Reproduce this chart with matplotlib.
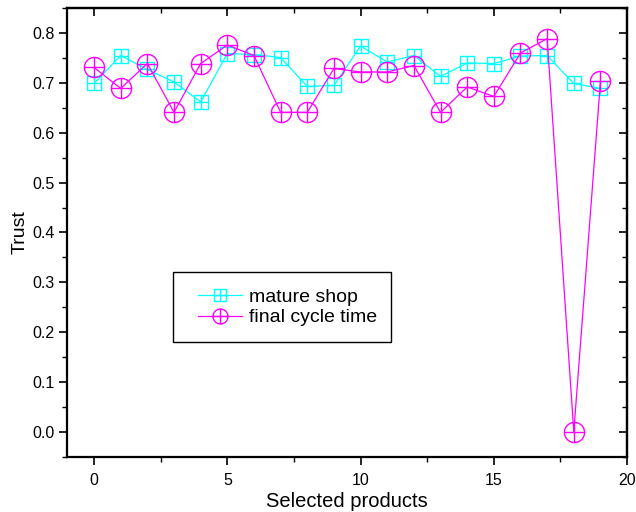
import numpy as np
import matplotlib
matplotlib.use('Agg')
import matplotlib.pyplot as plt
from matplotlib.path import Path
from matplotlib.patches import Rectangle
from matplotlib.ticker import MultipleLocator, FormatStrFormatter

# Data
products = list(range(20))
mature_shop = [0.699, 0.755, 0.727, 0.702, 0.662, 0.759, 0.757, 0.751, 0.693, 0.695,
               0.774, 0.742, 0.755, 0.713, 0.740, 0.739, 0.754, 0.755, 0.699, 0.689]
final_cycle = [0.731, 0.689, 0.739, 0.641, 0.739, 0.776, 0.755, 0.641, 0.641, 0.729,
               0.722, 0.722, 0.735, 0.641, 0.692, 0.673, 0.760, 0.789, 0.0, 0.703]

plt.rcParams['font.family'] = ['Liberation Sans', 'DejaVu Sans']

# marker shapes: square with cross, circle with cross
cross = Path([(-1, 0), (1, 0), (0, -1), (0, 1)],
             [Path.MOVETO, Path.LINETO, Path.MOVETO, Path.LINETO])
square = Path([(-1, -1), (1, -1), (1, 1), (-1, 1), (-1, -1)],
              [Path.MOVETO, Path.LINETO, Path.LINETO, Path.LINETO, Path.CLOSEPOLY])
sq_cross = Path.make_compound_path(square, cross)
circ_cross = Path.make_compound_path(Path.unit_circle(), cross)

fig = plt.figure(figsize=(6.36, 5.12), dpi=100)
ax = fig.add_axes([0.106, 0.108, 0.880, 0.876])

ax.plot(products, mature_shop, color='#00FFFF', lw=0.9, marker=sq_cross,
        markersize=10, markerfacecolor='none', markeredgecolor='#00FFFF',
        markeredgewidth=1.0, label='mature shop')
ax.plot(products, final_cycle, color='#FF00FF', lw=0.9, marker=circ_cross,
        markersize=14.5, markerfacecolor='none', markeredgecolor='#FF00FF',
        markeredgewidth=1.0, label='final cycle time')

ax.set_xlim(-1, 20)
ax.set_ylim(-0.05, 0.85)

# left/bottom: outward ticks with labels
ax.xaxis.set_major_locator(MultipleLocator(5))
ax.xaxis.set_minor_locator(MultipleLocator(2.5))
ax.yaxis.set_major_locator(MultipleLocator(0.1))
ax.yaxis.set_minor_locator(MultipleLocator(0.05))
ax.yaxis.set_major_formatter(FormatStrFormatter('%.1f'))
ax.tick_params(which='both', direction='out', labelsize=11.5)
ax.tick_params(which='major', length=5.5, width=1.2)
ax.tick_params(which='minor', length=3.5, width=1.0)
ax.tick_params(axis='x', which='major', pad=6)
for s in ax.spines.values():
    s.set_linewidth(1.6)

# top/right: inward ticks, no labels
top = ax.secondary_xaxis('top')
top.xaxis.set_major_locator(MultipleLocator(5))
top.xaxis.set_minor_locator(MultipleLocator(2.5))
top.tick_params(which='both', direction='in', labeltop=False)
top.tick_params(which='major', length=5.5, width=1.2)
top.tick_params(which='minor', length=3.5, width=1.0)
top.spines['top'].set_linewidth(1.6)
right = ax.secondary_yaxis('right')
right.yaxis.set_major_locator(MultipleLocator(0.1))
right.yaxis.set_minor_locator(MultipleLocator(0.05))
right.tick_params(which='both', direction='in', labelright=False)
right.tick_params(which='major', length=5.5, width=1.2)
right.tick_params(which='minor', length=3.5, width=1.0)
right.spines['right'].set_linewidth(1.6)

ax.set_xlabel('Selected products', fontsize=14.5, labelpad=3)
ax.set_ylabel('Trust', fontsize=14, labelpad=3)

# legend: frame drawn separately so the padding matches
ax.add_patch(Rectangle((0.188, 0.256), 0.390, 0.156, transform=ax.transAxes,
                       facecolor='white', edgecolor='black', lw=1.0, zorder=4))
leg = ax.legend(loc='center left', bbox_to_anchor=(0.233, 0.333), fontsize=14,
                frameon=False, borderpad=0, borderaxespad=0,
                handlelength=2.25, handletextpad=0.4, labelspacing=0.15)
leg.set_zorder(5)
for h, ms in zip(leg.legend_handles, [8.6, 10.8]):
    h.set_markersize(ms)

plt.savefig('out.png', dpi=100)
